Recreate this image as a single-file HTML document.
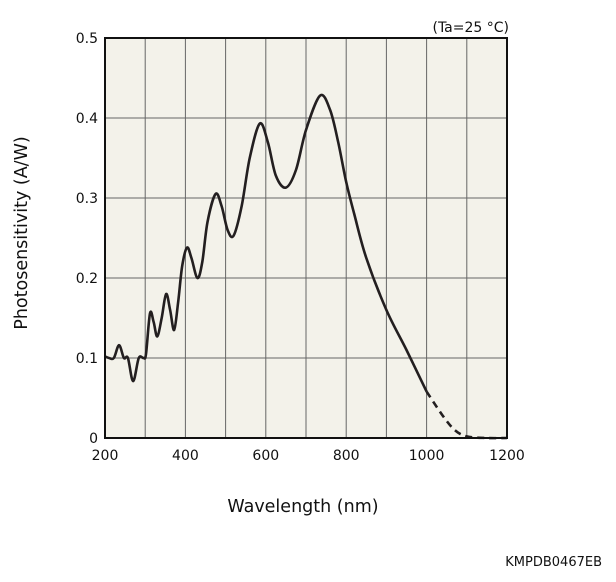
<!DOCTYPE html>
<html><head><meta charset="utf-8"><style>
body{margin:0;background:#fff;}
svg text{font-family:"DejaVu Sans","Liberation Sans",sans-serif;fill:#111;}
</style></head><body>
<svg width="616" height="577">
<rect x="105" y="38" width="402" height="400" fill="#f3f2ea"/>
<g id="grid"></g>
<g id="curve"></g>
<rect x="105" y="38" width="402" height="400" fill="none" stroke="#111" stroke-width="2"/>
<g id="ticks"></g>
<text x="509" y="32" font-size="14" text-anchor="end">(Ta=25 °C)</text>
<text x="303" y="512" font-size="17.5" text-anchor="middle">Wavelength (nm)</text>
<text transform="translate(27,233) rotate(-90)" font-size="17.5" text-anchor="middle">Photosensitivity (A/W)</text>
<text x="602" y="566" font-size="13" text-anchor="end">KMPDB0467EB</text>
</svg>
<script>
const xTicks=[200,400,600,800,1000,1200];
const yTicks=[0,0.1,0.2,0.3,0.4,0.5];
const yTickLabels=["0","0.1","0.2","0.3","0.4","0.5"];
const solidWl=[200,210,222,235,247,257,270,284,296,302,312,321,330,341,352,362,372,382,392,404,415,430,442,455,475,490,505,520,540,560,585,605,625,650,675,700,735,760,780,800,820,850,900,950,1000];
const solidVal=[0.102,0.10,0.10,0.116,0.10,0.10,0.071,0.10,0.10,0.105,0.156,0.145,0.127,0.15,0.18,0.16,0.135,0.17,0.215,0.238,0.225,0.20,0.22,0.27,0.305,0.29,0.26,0.253,0.29,0.35,0.393,0.37,0.328,0.313,0.335,0.385,0.428,0.41,0.37,0.32,0.28,0.225,0.16,0.11,0.058];
const dashWl=[1000,1040,1070,1100,1150,1200];
const dashVal=[0.058,0.028,0.01,0.002,0,0];
const X=w=>105+(w-200)*402/1000;
const Y=v=>438-v*800;
const NS="http://www.w3.org/2000/svg";
function mk(t,a,p){const e=document.createElementNS(NS,t);for(const k in a)e.setAttribute(k,a[k]);p.appendChild(e);return e;}
const grid=document.getElementById('grid'),ticks=document.getElementById('ticks'),curve=document.getElementById('curve');
for(let w=300;w<1200;w+=100){const l=mk('line',{x1:X(w),x2:X(w),y1:38,y2:438,stroke:'#666','stroke-width':1},grid);

}
for(let i=1;i<yTicks.length-1;i++){const l=mk('line',{x1:105,x2:507,y1:Y(yTicks[i]),y2:Y(yTicks[i]),stroke:'#666','stroke-width':1},grid);

}
xTicks.forEach(w=>{const t=mk('text',{x:X(w),y:460,'font-size':14,'text-anchor':'middle'},ticks);t.textContent=w;

});
yTicks.forEach((v,i)=>{const t=mk('text',{x:98,y:Y(v)+5,'font-size':14,'text-anchor':'end'},ticks);t.textContent=yTickLabels[i];

});
function path(ws,vs){const p=ws.map((w,i)=>[X(w),Y(vs[i])]);let d='M'+p[0][0]+','+p[0][1];
for(let i=0;i<p.length-1;i++){const p0=p[i-1]||p[i],p1=p[i],p2=p[i+1],p3=p[i+2]||p2;
const c1=[p1[0]+(p2[0]-p0[0])/6,p1[1]+(p2[1]-p0[1])/6],c2=[p2[0]-(p3[0]-p1[0])/6,p2[1]-(p3[1]-p1[1])/6];
d+=`C${c1[0]},${c1[1]} ${c2[0]},${c2[1]} ${p2[0]},${p2[1]}`;}return d;}
const s=mk('path',{d:path(solidWl,solidVal),fill:'none',stroke:'#231f20','stroke-width':2.6,'stroke-linejoin':'round'},curve);


const dsh=mk('path',{d:path(dashWl,dashVal),fill:'none',stroke:'#231f20','stroke-width':2.6,'stroke-dasharray':'7,5'},curve);


</script>
</body></html>
